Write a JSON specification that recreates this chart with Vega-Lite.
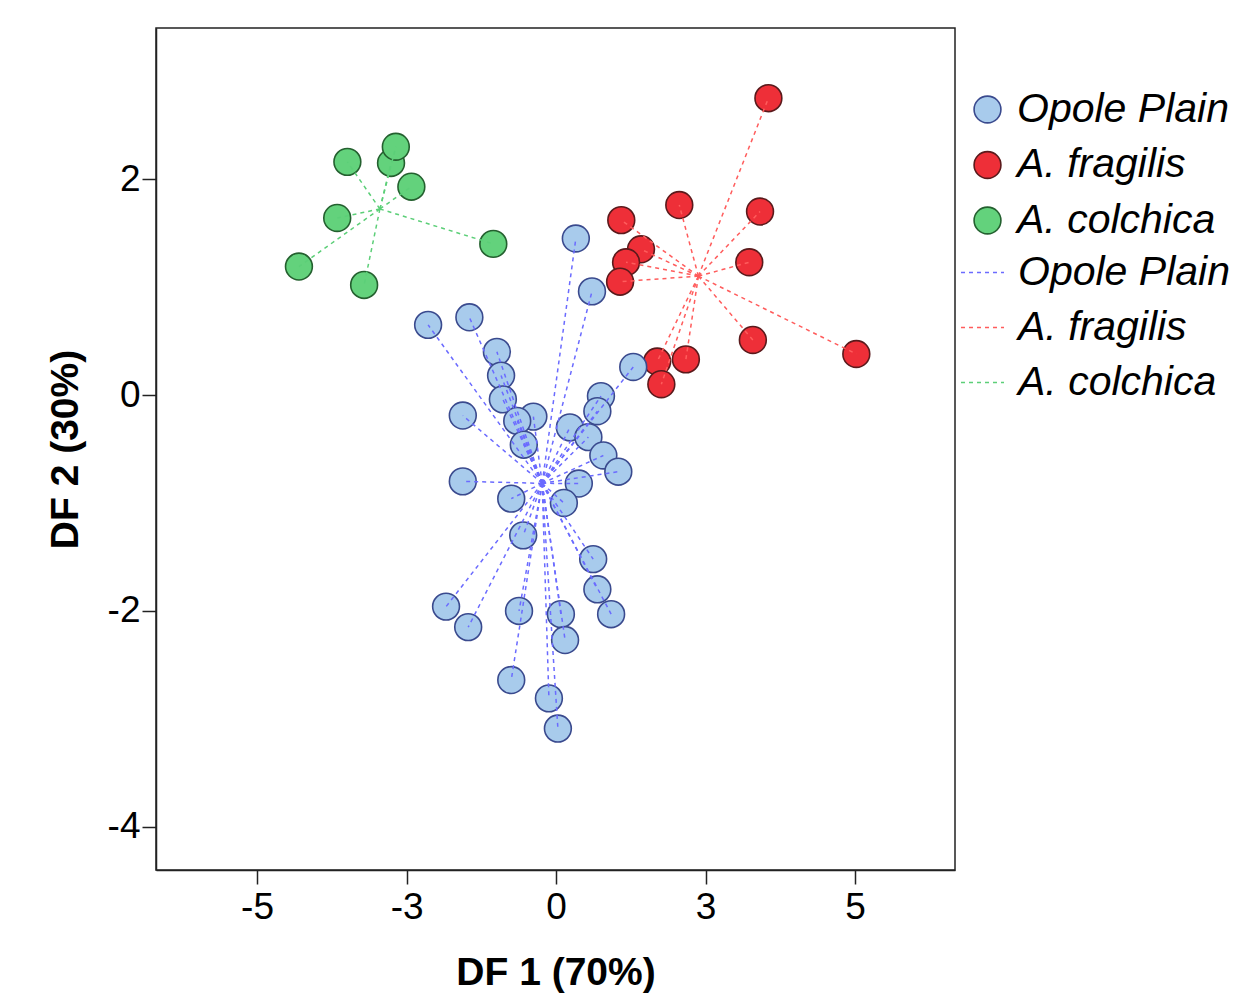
{
  "$schema": "https://vega.github.io/schema/vega-lite/v6.json",
  "width": 799,
  "height": 842,
  "autosize": {"type": "none"},
  "padding": {"left": 156, "top": 28, "right": 291, "bottom": 130},
  "background": "white",
  "config": {
    "font": "Liberation Sans",
    "view": {"stroke": "#222222", "strokeWidth": 1.5},
    "axis": {
      "grid": false,
      "domainColor": "#222222",
      "domainWidth": 1.5,
      "tickColor": "#222222",
      "tickWidth": 1.5,
      "tickSize": 14,
      "labelColor": "black",
      "labelFont": "Liberation Sans",
      "labelFontSize": 37,
      "titleColor": "black",
      "titleFont": "Liberation Sans",
      "titleFontSize": 39,
      "titleFontWeight": "bold"
    }
  },
  "data": {
    "values": [
      {"group": "A. colchica", "df1": -3.49, "df2": 2.16},
      {"group": "A. colchica", "df1": -2.76, "df2": 2.15},
      {"group": "A. colchica", "df1": -2.68, "df2": 2.30},
      {"group": "A. colchica", "df1": -2.42, "df2": 1.93},
      {"group": "A. colchica", "df1": -3.66, "df2": 1.64},
      {"group": "A. colchica", "df1": -4.30, "df2": 1.19},
      {"group": "A. colchica", "df1": -3.21, "df2": 1.02},
      {"group": "A. colchica", "df1": -1.05, "df2": 1.40},
      {"group": "A. fragilis", "df1": 3.55, "df2": 2.75},
      {"group": "A. fragilis", "df1": 2.06, "df2": 1.76},
      {"group": "A. fragilis", "df1": 3.41, "df2": 1.70},
      {"group": "A. fragilis", "df1": 1.09, "df2": 1.62},
      {"group": "A. fragilis", "df1": 1.42, "df2": 1.35},
      {"group": "A. fragilis", "df1": 1.17, "df2": 1.23},
      {"group": "A. fragilis", "df1": 1.07, "df2": 1.05},
      {"group": "A. fragilis", "df1": 3.23, "df2": 1.23},
      {"group": "A. fragilis", "df1": 3.29, "df2": 0.51},
      {"group": "A. fragilis", "df1": 5.02, "df2": 0.38},
      {"group": "A. fragilis", "df1": 1.69, "df2": 0.31},
      {"group": "A. fragilis", "df1": 2.17, "df2": 0.33},
      {"group": "A. fragilis", "df1": 1.76, "df2": 0.10},
      {"group": "Opole Plain", "df1": 0.33, "df2": 1.45},
      {"group": "Opole Plain", "df1": 0.60, "df2": 0.96},
      {"group": "Opole Plain", "df1": -2.14, "df2": 0.65},
      {"group": "Opole Plain", "df1": -1.45, "df2": 0.72},
      {"group": "Opole Plain", "df1": -0.99, "df2": 0.40},
      {"group": "Opole Plain", "df1": -0.92, "df2": 0.18},
      {"group": "Opole Plain", "df1": -0.89, "df2": -0.04},
      {"group": "Opole Plain", "df1": 1.29, "df2": 0.26},
      {"group": "Opole Plain", "df1": 0.75, "df2": -0.01},
      {"group": "Opole Plain", "df1": -1.56, "df2": -0.19},
      {"group": "Opole Plain", "df1": -0.38, "df2": -0.20},
      {"group": "Opole Plain", "df1": -0.65, "df2": -0.24},
      {"group": "Opole Plain", "df1": 0.23, "df2": -0.30},
      {"group": "Opole Plain", "df1": 0.69, "df2": -0.15},
      {"group": "Opole Plain", "df1": 0.54, "df2": -0.39},
      {"group": "Opole Plain", "df1": -0.54, "df2": -0.46},
      {"group": "Opole Plain", "df1": 0.79, "df2": -0.56},
      {"group": "Opole Plain", "df1": 1.04, "df2": -0.71},
      {"group": "Opole Plain", "df1": -1.56, "df2": -0.80},
      {"group": "Opole Plain", "df1": 0.38, "df2": -0.82},
      {"group": "Opole Plain", "df1": -0.75, "df2": -0.96},
      {"group": "Opole Plain", "df1": 0.13, "df2": -1.00},
      {"group": "Opole Plain", "df1": -0.55, "df2": -1.30},
      {"group": "Opole Plain", "df1": 0.62, "df2": -1.52},
      {"group": "Opole Plain", "df1": 0.69, "df2": -1.80},
      {"group": "Opole Plain", "df1": -1.84, "df2": -1.96},
      {"group": "Opole Plain", "df1": -1.47, "df2": -2.15},
      {"group": "Opole Plain", "df1": -0.62, "df2": -2.00},
      {"group": "Opole Plain", "df1": 0.08, "df2": -2.03},
      {"group": "Opole Plain", "df1": 0.92, "df2": -2.03},
      {"group": "Opole Plain", "df1": 0.15, "df2": -2.27},
      {"group": "Opole Plain", "df1": -0.75, "df2": -2.64},
      {"group": "Opole Plain", "df1": -0.12, "df2": -2.81},
      {"group": "Opole Plain", "df1": 0.03, "df2": -3.09}
    ]
  },
  "transform": [
    {"joinaggregate": [{"op": "mean", "field": "df1", "as": "cx"}, {"op": "mean", "field": "df2", "as": "cy"}], "groupby": ["group"]},
    {"calculate": "datum.group", "as": "lineGroup"}
  ],
  "layer": [
    {
      "mark": {"type": "circle", "size": 720, "strokeWidth": 1.6, "opacity": 1},
      "encoding": {
        "x": {
          "field": "df1", "type": "quantitative",
          "scale": {"domain": [-6.69, 6.67], "nice": false, "zero": false},
          "axis": {"title": "DF 1 (70%)", "values": [-5, -2.5, 0, 2.5, 5], "labelExpr": "datum.value < 0 ? '-' + format(-datum.value, '.0f') : format(datum.value, '.0f')", "labelPadding": 5, "titlePadding": 28}
        },
        "y": {
          "field": "df2", "type": "quantitative",
          "scale": {"domain": [-4.4, 3.4], "nice": false, "zero": false},
          "axis": {"title": "DF 2 (30%)", "values": [-4, -2, 0, 2], "labelExpr": "datum.value < 0 ? '-' + format(-datum.value, '.0f') : format(datum.value, '.0f')", "labelPadding": 2, "titlePadding": 22}
        },
        "fill": {
          "field": "group", "type": "nominal",
          "scale": {"domain": ["Opole Plain", "A. fragilis", "A. colchica"], "range": ["#a8cbec", "#ee2f38", "#63d27c"]},
          "legend": {
            "title": null, "orient": "none", "legendX": 811, "legendY": 61,
            "labelFont": "Liberation Sans", "labelFontStyle": "italic", "labelFontSize": 41, "labelColor": "black", "labelLimit": 400,
            "symbolType": "circle", "symbolSize": 720, "symbolStrokeWidth": 1.6, "rowPadding": 13.5, "labelOffset": 9,
            "encode": {"symbols": {"update": {"stroke": {"scale": "stroke", "field": "value"}, "strokeWidth": {"value": 1.6}}}}
          }
        },
        "stroke": {
          "field": "group", "type": "nominal",
          "scale": {"domain": ["Opole Plain", "A. fragilis", "A. colchica"], "range": ["#3a4a8e", "#5a1a1c", "#24602f"]},
          "legend": null
        }
      }
    },
    {
      "mark": {"type": "rule", "strokeDash": [4, 4], "strokeWidth": 1.5},
      "encoding": {
        "x": {"field": "cx", "type": "quantitative", "axis": {"title": "DF 1 (70%)"}},
        "y": {"field": "cy", "type": "quantitative", "axis": {"title": "DF 2 (30%)"}},
        "x2": {"field": "df1"},
        "y2": {"field": "df2"},
        "color": {
          "field": "lineGroup", "type": "nominal",
          "sort": ["Opole Plain", "A. fragilis", "A. colchica"],
          "scale": {"range": ["#6b6bff", "#ff5c5c", "#5ccf78"]},
          "legend": {
            "title": null, "orient": "none", "legendX": 804, "legendY": 222,
            "symbolType": "stroke", "symbolSize": 1850, "symbolStrokeWidth": 1.5, "symbolDash": [4, 4],
            "labelFont": "Liberation Sans", "labelFontStyle": "italic", "labelFontSize": 41, "labelColor": "black", "labelLimit": 400,
            "rowPadding": 12, "labelOffset": 13
          }
        }
      }
    }
  ]
}
